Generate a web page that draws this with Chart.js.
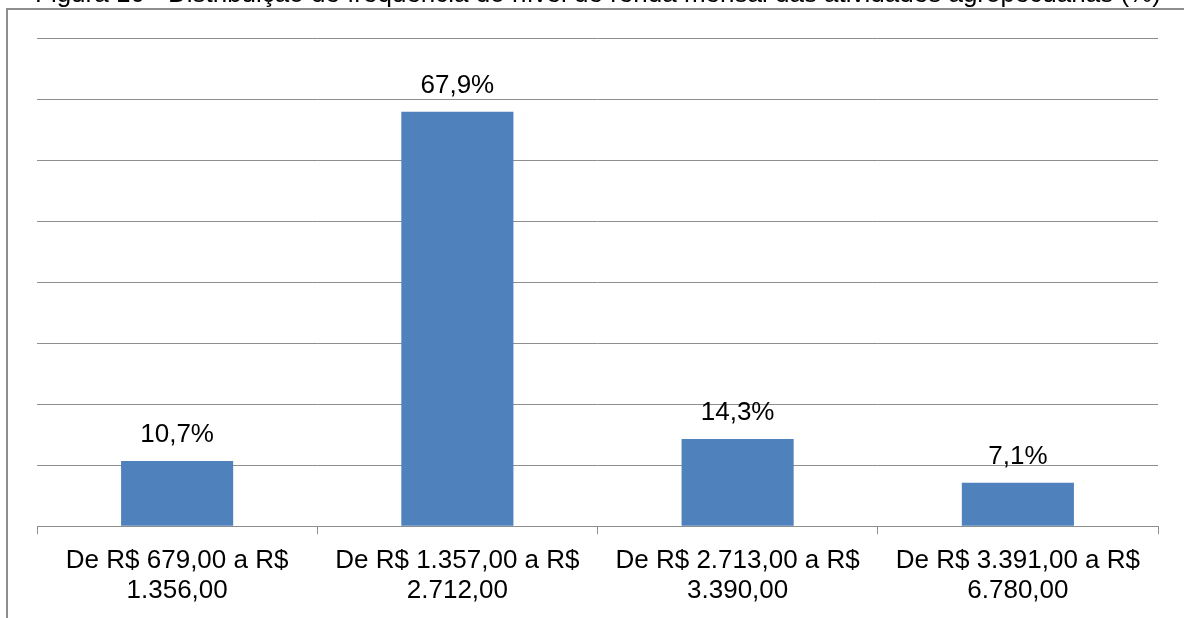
<!DOCTYPE html>
<html lang="pt-BR">
<head>
<meta charset="utf-8">
<title>Renda mensal das atividades agropecuárias</title>
<script src="https://cdn.jsdelivr.net/npm/chart.js@4.4.1/dist/chart.umd.min.js"></script>
<style>
  html, body { margin: 0; padding: 0; background: #fff; overflow: hidden; }
  #wrap { position: relative; width: 1184px; height: 618px; }
</style>
</head>
<body>
<div id="wrap"><canvas id="rendaChart" width="1184" height="618"></canvas></div>
<script>
// Faixas de renda mensal (rótulos em duas linhas, como no eixo)
const faixas = [
  ['De R$ 679,00 a R$', '1.356,00'],
  ['De R$ 1.357,00 a R$', '2.712,00'],
  ['De R$ 2.713,00 a R$', '3.390,00'],
  ['De R$ 3.391,00 a R$', '6.780,00']
];
// Frequência (%) por faixa
const frequencias = [10.7, 67.9, 14.3, 7.1];
const eixoMax = 80;
const eixoPasso = 10;

const legenda = 'Figura 10 - Distribuição de frequência do nível de renda mensal das atividades agropecuárias (%)';
const FONTE = '"Liberation Sans", Arial, sans-serif';
const AZUL = '#4F81BD';
const CINZA = '#8E8E8E';

// Moldura, legenda da figura (cortada no topo) e rótulos percentuais
const molduraPlugin = {
  id: 'moldura',
  beforeDraw(chart) {
    const { ctx, width, height } = chart;
    ctx.save();
    ctx.fillStyle = '#fff';
    ctx.fillRect(0, 0, width, height);
    ctx.strokeStyle = CINZA;
    ctx.lineWidth = 2;
    ctx.beginPath();
    ctx.moveTo(7, height + 2);
    ctx.lineTo(7, 9);
    ctx.lineTo(width + 2, 9);
    ctx.stroke();
    ctx.fillStyle = '#000';
    ctx.font = '26px ' + FONTE;
    ctx.textBaseline = 'alphabetic';
    ctx.textAlign = 'left';
    ctx.fillText(legenda, 35, 2);
    ctx.restore();
  },
  afterDatasetsDraw(chart) {
    const { ctx } = chart;
    const meta = chart.getDatasetMeta(0);
    ctx.save();
    ctx.fillStyle = '#000';
    ctx.font = '26px ' + FONTE;
    ctx.textAlign = 'center';
    ctx.textBaseline = 'alphabetic';
    meta.data.forEach((bar, i) => {
      const txt = frequencias[i].toFixed(1).replace('.', ',') + '%';
      ctx.fillText(txt, bar.x, bar.y - 19);
    });
    ctx.restore();
  }
};

new Chart(document.getElementById('rendaChart'), {
  type: 'bar',
  data: {
    labels: faixas,
    datasets: [{
      label: 'Frequência (%)',
      data: frequencias,
      backgroundColor: AZUL,
      borderWidth: 0,
      categoryPercentage: 1,
      barPercentage: 0.4
    }]
  },
  options: {
    responsive: false, animation: false,
    layout: { padding: { left: 37, right: 26, top: 38, bottom: 0 } },
    plugins: { legend: { display: false }, tooltip: { enabled: false } },
    scales: {
      x: {
        grid: { drawOnChartArea: false, drawTicks: true, tickLength: 8, color: CINZA, lineWidth: 1 },
        border: { display: true, color: CINZA, width: 1 },
        ticks: {
          color: '#000', padding: 12, maxRotation: 0, autoSkip: false,
          font: { family: FONTE, size: 26, lineHeight: 1.15 }
        }
      },
      y: {
        min: 0, max: eixoMax,
        ticks: { display: false, stepSize: eixoPasso },
        grid: { color: CINZA, lineWidth: 1, drawTicks: false },
        border: { display: false }
      }
    }
  },
  plugins: [molduraPlugin]
});
</script>
</body>
</html>
